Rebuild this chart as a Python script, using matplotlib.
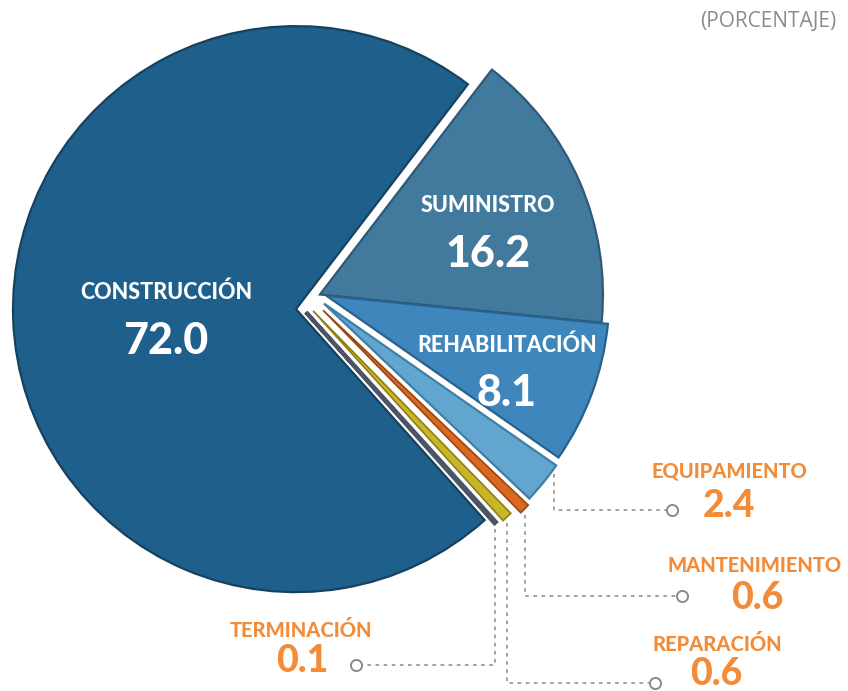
import matplotlib
matplotlib.use("Agg")
import matplotlib.pyplot as plt
import numpy as np

categories = ["CONSTRUCCIÓN", "SUMINISTRO", "REHABILITACIÓN", "EQUIPAMIENTO",
              "MANTENIMIENTO", "REPARACIÓN", "TERMINACIÓN"]
values = [72.0, 16.2, 8.1, 2.4, 0.6, 0.6, 0.1]
value_labels = ["72.0", "16.2", "8.1", "2.4", "0.6", "0.6", "0.1"]

colors = ["#1f5f8b", "#427a9e", "#3e86bb", "#62a6cf", "#d9691e", "#c8b52a", "#6f7a8e"]
edges = ["#16425f", "#2e5a78", "#28628c", "#3f7fa6", "#9c4712", "#8f8015", "#4c5466"]
# layout offsets of each slice (pixels): along its mid-angle and perpendicular (ccw)
offset_along = [3, 25, 21, 16, 18, 11, 7]
offset_perp = [0, 5, 22, 20, 16, 9, 3]

W, H = 848, 691
fig = plt.figure(figsize=(W / 100, H / 100), dpi=100)
ax = fig.add_axes([0, 0, 1, 1])

cx, cy, R = 299, H - 309, 283
wedges, _ = ax.pie(values, colors=colors, startangle=52.6 + 259.2, counterclock=False,
                   center=(cx, cy), radius=R,
                   wedgeprops=dict(linewidth=1.6), frame=True)
for w, ec, a, p in zip(wedges, edges, offset_along, offset_perp):
    w.set_edgecolor(ec)
    tm = np.deg2rad((w.theta1 + w.theta2) / 2)
    dx = a * np.cos(tm) - p * np.sin(tm)
    dy = a * np.sin(tm) + p * np.cos(tm)
    w.set_center((cx + dx, cy + dy))
wedges[6].set_linewidth(3.0)
wedges[4].set_linewidth(1.2)
wedges[5].set_linewidth(1.2)
ax.set_xlim(0, W)
ax.set_ylim(0, H)
ax.set_aspect("equal")
ax.axis("off")

FONT = ["Lato", "DejaVu Sans"]
orange = "#f28c38"

inside = {0: (166, 292, 341), 1: (488, 205, 254), 2: (507, 345, 393)}
for i, (x, y1, y2) in inside.items():
    ax.text(x, H - y1, categories[i], color="white", fontsize=15.5, fontweight="black",
            ha="center", va="center", family=FONT, zorder=5)
    ax.text(x, H - y2, value_labels[i], color="white", fontsize=31, fontweight="black",
            ha="center", va="center", family=FONT, zorder=5)

def wedge_point(i, t=0.5, frac=1.0):
    w = wedges[i]
    a = np.deg2rad(w.theta1 + t * (w.theta2 - w.theta1))
    c = w.center
    return c[0] + w.r * frac * np.cos(a), c[1] + w.r * frac * np.sin(a)

outside = {
    3: dict(label=(729, 471), value=(729, 506), elbow_y=510, end_x=672, t=0.93),
    4: dict(label=(755, 566), value=(757, 598), elbow_y=596, end_x=682, t=0.5),
    5: dict(label=(717, 644), value=(716, 674), elbow_y=683, end_x=655, t=0.5),
    6: dict(label=(301, 630), value=(302, 661), elbow_y=665, end_x=356, t=0.5),
}
for i, o in outside.items():
    lx, ly = o["label"]
    vx, vy = o["value"]
    ax.text(lx, H - ly, categories[i], color=orange, fontsize=14.5, fontweight="black",
            ha="center", va="center", family=FONT)
    ax.text(vx, H - vy, value_labels[i], color=orange, fontsize=27, fontweight="black",
            ha="center", va="center", family=FONT)
    sx, sy = wedge_point(i, o["t"], 1.0)
    sy -= 6
    ey = H - o["elbow_y"]
    ax.plot([sx, sx, o["end_x"]], [sy, ey, ey], color="#9a9a9a", lw=1.3,
            ls=(0, (2, 2.5)), zorder=1)
    ax.plot(o["end_x"], ey, "o", ms=8, mfc="white", mec="#8a8a8a", mew=1.4, zorder=3)

ax.text(836, H - 21, "(PORCENTAJE)", color="#8c8c8c", fontsize=15, ha="right",
        va="center", family=["Open Sans", "DejaVu Sans"])

fig.savefig("out.png", dpi=100, facecolor="white")
